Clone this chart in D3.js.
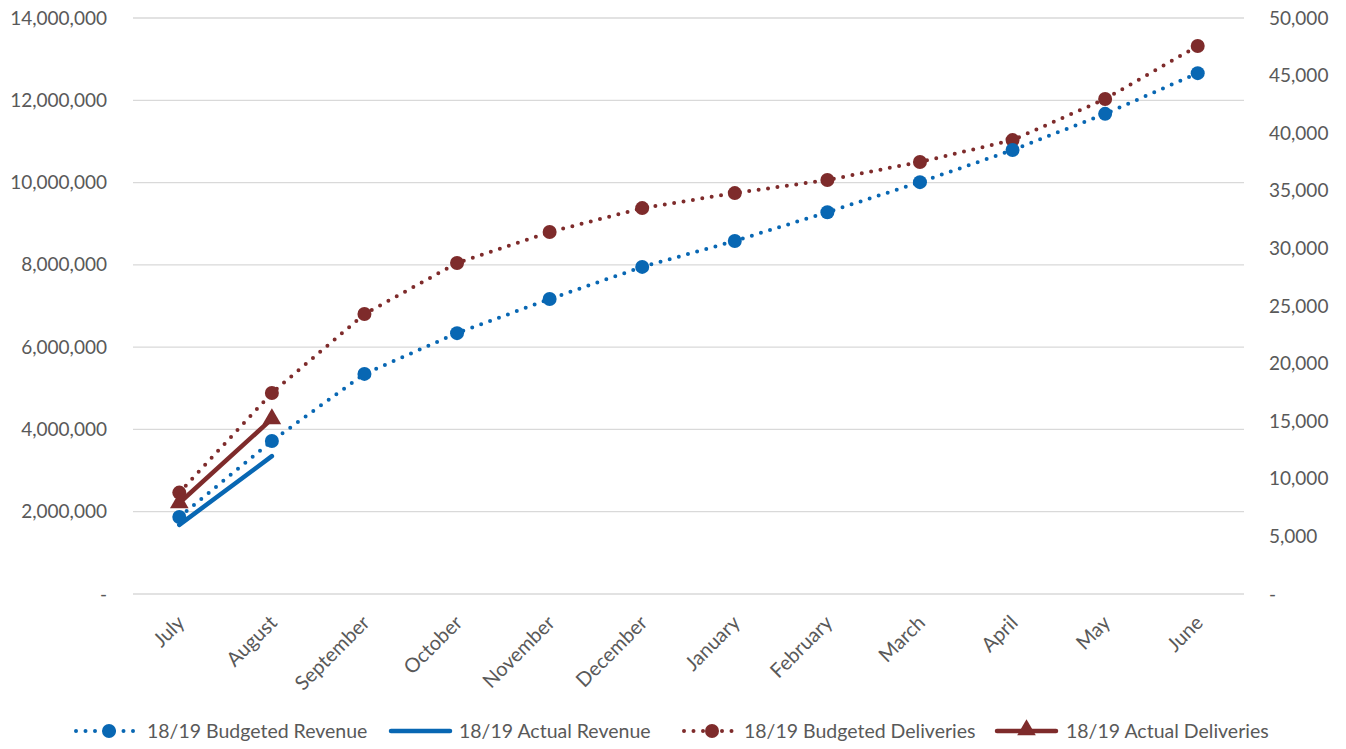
<!DOCTYPE html>
<html>
<head>
<meta charset="utf-8">
<script src="https://cdn.jsdelivr.net/npm/d3@7"></script>
<style>
  body { margin: 0; background: #fff; }
  text { font-family: Lato, "Liberation Sans", sans-serif; fill: #595959; }
</style>
</head>
<body>
<script>
// months on the x axis
var months = ["July", "August", "September", "October", "November", "December",
              "January", "February", "March", "April", "May", "June"];

// left axis series (revenue)
var budgetRevenue = [1870000, 3720000, 5350000, 6340000, 7170000, 7950000,
                     8580000, 9280000, 10010000, 10790000, 11670000, 12660000];
var actualRevenue = [1680000, 3350000];

// right axis series (deliveries)
var budgetDeliveries = [8800, 17450, 24300, 28730, 31420, 33500,
                        34800, 35940, 37500, 39400, 42970, 47570];
var actualDeliveries = [7900, 15200];

var leftTicks = [0, 2000000, 4000000, 6000000, 8000000, 10000000, 12000000, 14000000];
var rightTicks = [0, 5000, 10000, 15000, 20000, 25000, 30000, 35000, 40000, 45000, 50000];

var legendNames = ["18/19 Budgeted Revenue", "18/19 Actual Revenue",
                   "18/19 Budgeted Deliveries", "18/19 Actual Deliveries"];

var blue = "#0867b3", red = "#7e2b2b";

var w = 1346, h = 749;
var svg = d3.select("body").append("svg").attr("width", w).attr("height", h);

var pLeft = 133, pRight = 1244, pTop = 18, pBottom = 594;

var x = d3.scalePoint().domain(months).range([pLeft, pRight]).padding(0.5);
var yL = d3.scaleLinear().domain([0, 14000000]).range([pBottom, pTop]);
var yR = d3.scaleLinear().domain([0, 50000]).range([pBottom, pTop]);

var fmt = function(d) { return d === 0 ? "-" : d3.format(",")(d); };

// gridlines
svg.append("g").selectAll("line").data(leftTicks).enter().append("line")
  .attr("x1", pLeft).attr("x2", pRight)
  .attr("y1", function(d) { return yL(d); }).attr("y2", function(d) { return yL(d); })
  .attr("stroke", "#d9d9d9").attr("stroke-width", 1.3);

// left axis
var gl = svg.append("g").attr("transform", "translate(" + pLeft + ",0)")
  .call(d3.axisLeft(yL).tickValues(leftTicks).tickFormat(fmt).tickSize(0).tickPadding(26));
gl.select(".domain").remove();
gl.selectAll("text").style("font-size", "19px").attr("fill", "#595959");

// right axis
var gr = svg.append("g").attr("transform", "translate(" + pRight + ",0)")
  .call(d3.axisRight(yR).tickValues(rightTicks).tickFormat(fmt).tickSize(0).tickPadding(25));
gr.select(".domain").remove();
gr.selectAll("text").style("font-size", "19px").attr("fill", "#595959")
  .attr("text-anchor", "start");

// x axis labels
var gx = svg.append("g").attr("transform", "translate(0," + pBottom + ")")
  .call(d3.axisBottom(x).tickSize(0).tickPadding(0));
gx.select(".domain").remove();
gx.selectAll("text").style("font-size", "20px").attr("fill", "#595959")
  .attr("text-anchor", "end")
  .attr("transform", "translate(6,30) rotate(-45)")
  .attr("dy", "0");

var lineL = d3.line().x(function(d, i) { return x(months[i]); }).y(function(d) { return yL(d); });
var lineR = d3.line().x(function(d, i) { return x(months[i]); }).y(function(d) { return yR(d); });

function dotted(path, color) {
  svg.append("path").attr("d", path).attr("fill", "none").attr("stroke", color)
    .attr("stroke-width", 4).attr("stroke-linecap", "round").attr("stroke-dasharray", "0,9.5");
}
function solid(path, color) {
  svg.append("path").attr("d", path).attr("fill", "none").attr("stroke", color)
    .attr("stroke-width", 4.5).attr("stroke-linecap", "round");
}

dotted(lineR(budgetDeliveries), red);
dotted(lineL(budgetRevenue), blue);
solid(lineL(actualRevenue), blue);
solid(lineR(actualDeliveries), red);

svg.append("g").selectAll("circle").data(budgetDeliveries).enter().append("circle")
  .attr("cx", function(d, i) { return x(months[i]); }).attr("cy", function(d) { return yR(d); })
  .attr("r", 7).attr("fill", red);
svg.append("g").selectAll("circle").data(budgetRevenue).enter().append("circle")
  .attr("cx", function(d, i) { return x(months[i]); }).attr("cy", function(d) { return yL(d); })
  .attr("r", 7).attr("fill", blue);

var tri = d3.symbol().type(d3.symbolTriangle).size(150);
svg.append("g").selectAll("path").data(actualDeliveries).enter().append("path")
  .attr("d", tri)
  .attr("transform", function(d, i) { return "translate(" + x(months[i]) + "," + yR(d) + ")"; })
  .attr("fill", red);

// legend
var ly = 731;
var legendPos = [
  { x0: 76, x1: 136, tx: 147, color: blue, kind: "dot" },
  { x0: 391, x1: 450, tx: 459, color: blue, kind: "line" },
  { x0: 684, x1: 734, tx: 744, color: red, kind: "dot" },
  { x0: 997, x1: 1056, tx: 1066, color: red, kind: "tri" }
];
legendPos.forEach(function(p, i) {
  var g = svg.append("g");
  if (p.kind === "dot") {
    g.append("line").attr("x1", p.x0).attr("x2", p.x1).attr("y1", ly).attr("y2", ly)
      .attr("stroke", p.color).attr("stroke-width", 4).attr("stroke-linecap", "round")
      .attr("stroke-dasharray", "0,9.5");
    g.append("circle").attr("cx", (p.x0 + p.x1) / 2 + 3).attr("cy", ly).attr("r", 7).attr("fill", p.color);
  } else {
    g.append("line").attr("x1", p.x0).attr("x2", p.x1).attr("y1", ly).attr("y2", ly)
      .attr("stroke", p.color).attr("stroke-width", 4.5).attr("stroke-linecap", "round");
    if (p.kind === "tri") {
      g.append("path").attr("d", tri)
        .attr("transform", "translate(" + (p.x0 + p.x1) / 2 + "," + (ly - 1) + ")")
        .attr("fill", p.color);
    }
  }
  g.append("text").attr("x", p.tx).attr("y", ly).attr("dy", "0.35em")
    .style("font-size", "19.5px").text(legendNames[i]);
});
</script>
</body>
</html>
